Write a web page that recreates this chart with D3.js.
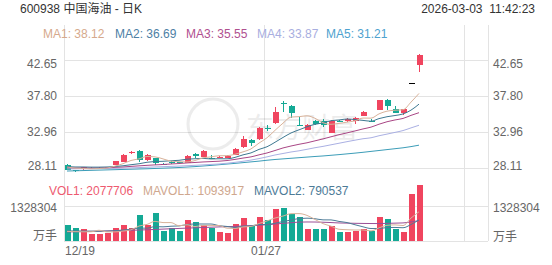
<!DOCTYPE html>
<html>
<head>
<meta charset="utf-8">
<script src="https://cdn.jsdelivr.net/npm/d3@7"></script>
<style>
  body { margin: 0; background: #fff; }
  text { font-family: "Liberation Sans", Arial, "Noto Sans CJK SC", sans-serif; }
</style>
</head>
<body>
<div id="chart"></div>
<script>
var svgWidth = 552;
var svgHeight = 265;

// daily candles, 12/19 .. 03/03
var dates = ["12/19", "12/22", "12/23", "12/24", "12/25", "12/26", "12/29", "12/30", "12/31", "01/05",
  "01/06", "01/07", "01/08", "01/09", "01/12", "01/13", "01/14", "01/15", "01/16", "01/19",
  "01/20", "01/21", "01/22", "01/23", "01/26", "01/27", "01/28", "01/29", "01/30", "02/02",
  "02/03", "02/04", "02/05", "02/06", "02/09", "02/10", "02/11", "02/12", "02/13", "02/24",
  "02/25", "02/26", "02/27", "03/02", "03/03"];
var opens = [28.56, 27.88, 27.98, 28.12, 28.14, 28.2, 28.55, 29.0, 30.1, 30.45, 29.2, 29.5, 28.7, 28.9, 28.95,
  28.88, 30.0, 29.68, 29.55, 29.5, 29.55, 29.9, 31.0, 31.9, 32.0, 33.45, 34.13, 36.9, 36.45, 33.9,
  33.3, 34.5, 34.5, 32.88, 34.5, 34.45, 34.44, 35.15, 34.5, 35.9, 37.3, 36.1, 35.45, 39.55, 41.85];
var highs = [28.65, 27.95, 28.32, 28.26, 28.3, 28.36, 29.1, 30.05, 30.45, 30.55, 30.05, 29.55, 28.8, 29.05, 29.0,
  29.85, 30.1, 30.6, 29.9, 29.7, 29.85, 30.8, 32.4, 32.1, 33.6, 33.9, 36.3, 37.05, 36.55, 35.0,
  34.0, 34.6, 34.7, 34.6, 34.6, 34.85, 35.0, 35.8, 34.7, 37.3, 37.35, 36.5, 36.05, 39.55, 43.45];
var lows = [27.85, 27.68, 27.95, 28.05, 28.1, 28.15, 28.5, 28.95, 30.0, 29.0, 29.1, 28.6, 28.5, 28.7, 28.8,
  28.8, 29.55, 29.6, 29.3, 29.45, 29.5, 29.85, 30.9, 31.1, 31.95, 33.05, 34.0, 35.6, 34.9, 33.75,
  33.2, 33.85, 33.6, 32.85, 34.3, 34.3, 33.98, 35.05, 34.3, 35.85, 35.9, 35.45, 35.3, 39.55, 41.0];
var closes = [27.95, 27.78, 28.28, 28.2, 28.22, 28.3, 29.05, 29.95, 30.35, 29.25, 29.9, 28.78, 28.6, 28.85, 28.85,
  29.78, 29.72, 30.42, 29.5, 29.6, 29.8, 30.7, 32.0, 31.45, 33.5, 33.35, 35.65, 36.8, 35.5, 33.8,
  33.9, 34.0, 33.85, 34.45, 34.42, 34.68, 34.9, 35.7, 34.42, 37.24, 36.48, 35.55, 35.99, 39.55, 43.3];
var volumes = [598000, 475000, 437000, 250000, 250000, 288000, 475000, 598000, 475000, 961000,
  598000, 1047000, 362000, 475000, 362000, 798000, 698000, 586000, 475000, 337000,
  300000, 648000, 873000, 561000, 898000, 773000, 1197000, 1234000, 1010000, 910000,
  437000, 437000, 449000, 549000, 325000, 349000, 380000, 461000, 374000, 885000,
  835000, 461000, 337000, 1760000, 2077706];

// moving average lines
var ma1 = [28.3, 28.15, 28.1, 28.05, 28.09, 28.16, 28.41, 28.74, 29.17, 29.38, 29.7, 29.65, 29.38, 29.08, 29.0,
  28.97, 29.16, 29.52, 29.65, 29.8, 29.81, 30.0, 30.32, 30.71, 31.49, 32.2, 33.19, 34.15, 34.96, 35.02,
  35.13, 34.8, 34.21, 34.0, 34.12, 34.28, 34.46, 34.83, 34.82, 35.39, 35.75, 35.88, 35.94, 36.96, 38.12];
var ma2 = [28.35, 28.3, 28.3, 28.28, 28.28, 28.3, 28.36, 28.46, 28.6, 28.73, 28.93, 29.03, 29.06, 29.13, 29.19,
  29.34, 29.4, 29.45, 29.37, 29.4, 29.39, 29.58, 29.92, 30.18, 30.65, 31.0, 31.6, 32.24, 32.84, 33.26,
  33.67, 34.0, 34.18, 34.48, 34.57, 34.71, 34.63, 34.52, 34.41, 34.76, 35.01, 35.17, 35.38, 35.89, 36.69];
var ma3 = [28.2, 28.18, 28.17, 28.17, 28.18, 28.2, 28.25, 28.3, 28.38, 28.45, 28.52, 28.58, 28.63, 28.7, 28.76,
  28.84, 28.9, 28.97, 29.02, 29.07, 29.16, 29.31, 29.49, 29.65, 29.92, 30.17, 30.5, 30.84, 31.1, 31.33,
  31.53, 31.79, 32.05, 32.33, 32.61, 32.85, 33.11, 33.38, 33.62, 34.01, 34.34, 34.58, 34.78, 35.19, 35.55];
var ma4 = [28.05, 28.05, 28.06, 28.07, 28.08, 28.1, 28.12, 28.15, 28.18, 28.22, 28.26, 28.3, 28.34, 28.38, 28.42,
  28.47, 28.52, 28.58, 28.64, 28.7, 28.8, 28.92, 29.06, 29.22, 29.42, 29.65, 29.9, 30.1, 30.3, 30.46,
  30.66, 30.87, 31.05, 31.26, 31.47, 31.68, 31.88, 32.07, 32.2, 32.47, 32.69, 32.92, 33.16, 33.52, 33.87];
var ma5 = [27.76, 27.79, 27.82, 27.85, 27.88, 27.91, 27.94, 27.97, 28.0, 28.03, 28.06, 28.1, 28.14, 28.18, 28.23,
  28.29, 28.35, 28.43, 28.51, 28.6, 28.69, 28.78, 28.88, 28.98, 29.08, 29.2, 29.3, 29.38, 29.46, 29.54,
  29.62, 29.7, 29.77, 29.86, 29.95, 30.05, 30.15, 30.26, 30.38, 30.5, 30.62, 30.74, 30.86, 31.02, 31.21];
var mavol1 = [360000, 350000, 345000, 345000, 402000, 340000, 340000, 372000, 417000, 559000,
  621000, 736000, 689000, 689000, 569000, 609000, 539000, 584000, 584000, 579000,
  479000, 469000, 527000, 544000, 656000, 751000, 860000, 933000, 1022000, 1025000,
  958000, 806000, 649000, 556000, 439000, 422000, 410000, 413000, 378000, 490000,
  587000, 603000, 578000, 856000, 1093917];
var mavol2 = [380000, 375000, 372000, 368000, 365000, 370000, 385000, 410000, 440000, 481000,
  481000, 538000, 530000, 553000, 564000, 615000, 637000, 636000, 636000, 574000,
  544000, 504000, 555000, 564000, 617000, 615000, 665000, 730000, 783000, 840000,
  854000, 833000, 791000, 789000, 732000, 690000, 608000, 531000, 467000, 465000,
  504000, 507000, 496000, 617000, 790537];
var mavol3 = [340000, 345000, 352000, 360000, 368000, 376000, 384000, 392000, 400000, 410000,
  420000, 432000, 445000, 458000, 470000, 482000, 494000, 505000, 516000, 527000,
  535000, 548000, 560000, 575000, 591000, 612000, 635000, 660000, 685000, 707000,
  712000, 710000, 702000, 690000, 675000, 668000, 662000, 657000, 654000, 653000,
  660000, 668000, 676000, 715000, 762000];

var priceTicks = [28.11, 32.96, 37.80, 42.65];
var volTicks = [1328304];
var labelEvery = 25;
var slotCount = 53;

var upColor = "#f0455f";
var downColor = "#14a995";
var gridColor = "#e3e3e3";

var svg = d3.select("#chart")
  .append("svg")
  .attr("width", svgWidth)
  .attr("height", svgHeight);

// scales: one 8px slot per trading day
var xScale = d3.scaleLinear().domain([0, slotCount]).range([64, 488]);
var yPrice = d3.scaleLinear().domain([28.11, 42.65]).range([168.4, 59.5]);
var yVol = d3.scaleLinear().domain([0, 1328304]).range([241, 205.5]);
var barW = 6;
var cx = i => xScale(i) + barW / 2;

// grid
var grid = svg.append("g").attr("stroke", gridColor).attr("shape-rendering", "crispEdges");
priceTicks.forEach(function(t) {
  grid.append("line").attr("x1", 64).attr("x2", 488)
    .attr("y1", Math.round(yPrice(t)) + 0.5).attr("y2", Math.round(yPrice(t)) + 0.5);
});
volTicks.concat([0]).forEach(function(t) {
  grid.append("line").attr("x1", 64).attr("x2", 488)
    .attr("y1", Math.round(yVol(t)) + 0.5).attr("y2", Math.round(yVol(t)) + 0.5);
});
d3.range(0, slotCount + 1, labelEvery).concat([slotCount]).forEach(function(i) {
  grid.append("line").attr("x1", xScale(i) + 0.5).attr("x2", xScale(i) + 0.5)
    .attr("y1", 25).attr("y2", 241);
});

// faint watermark
var wm = svg.append("g").attr("opacity", 0.07);
wm.append("circle").attr("cx", 213).attr("cy", 124).attr("r", 25)
  .attr("fill", "none").attr("stroke", "#000").attr("stroke-width", 3);
wm.append("text").attr("x", 246).attr("y", 138).attr("font-size", 28)
  .attr("font-family", "Noto Sans CJK SC").attr("fill", "#000").text("东方财富");

// candles
var idx = d3.range(dates.length);
var candleColor = i => closes[i] > opens[i] ? upColor : (closes[i] < opens[i] ? downColor : "#000");
var volColor = function(i) {
  if (closes[i] > opens[i]) return upColor;
  if (closes[i] < opens[i]) return downColor;
  return (i > 0 && closes[i] < closes[i - 1]) ? downColor : upColor;
};

var candles = svg.append("g").attr("shape-rendering", "crispEdges");
candles.selectAll("line")
  .data(idx)
  .enter()
  .append("line")
  .attr("x1", i => Math.round(cx(i)) + 0.5)
  .attr("x2", i => Math.round(cx(i)) + 0.5)
  .attr("y1", i => yPrice(highs[i]))
  .attr("y2", i => yPrice(lows[i]))
  .attr("stroke", candleColor);
candles.selectAll("rect")
  .data(idx)
  .enter()
  .append("rect")
  .attr("x", i => xScale(i) + 0.5)
  .attr("y", i => yPrice(Math.max(opens[i], closes[i])))
  .attr("width", barW)
  .attr("height", i => Math.max(1, Math.abs(yPrice(opens[i]) - yPrice(closes[i]))))
  .attr("fill", candleColor);

// volume bars
svg.append("g").attr("shape-rendering", "crispEdges")
  .selectAll("rect")
  .data(idx)
  .enter()
  .append("rect")
  .attr("x", i => xScale(i) + 0.5)
  .attr("y", i => yVol(volumes[i]))
  .attr("width", barW)
  .attr("height", i => yVol(0) - yVol(volumes[i]))
  .attr("fill", volColor);

// MA lines
var priceLine = d3.line().x((d, i) => cx(i)).y(d => yPrice(d)).curve(d3.curveMonotoneX);
var volLine = d3.line().x((d, i) => cx(i)).y(d => yVol(d)).curve(d3.curveMonotoneX);
var maSeries = [
  { name: "MA1", values: ma1, color: "#d6a98c", line: "#d8b29a" },
  { name: "MA2", values: ma2, color: "#4d80a5", line: "#3e7891" },
  { name: "MA3", values: ma3, color: "#b0508f", line: "#a94685" },
  { name: "MA4", values: ma4, color: "#a8aee0", line: "#aab0e3" },
  { name: "MA5", values: ma5, color: "#4ea2cf", line: "#3c9db8" }
];
maSeries.slice().reverse().forEach(function(s) {
  svg.append("path").attr("d", priceLine(s.values))
    .attr("fill", "none").attr("stroke", s.line).attr("stroke-width", 1);
});
[[mavol3, "#9b4f96"], [mavol2, "#4d7b97"], [mavol1, "#d8b29a"]].forEach(function(p) {
  svg.append("path").attr("d", volLine(p[0]))
    .attr("fill", "none").attr("stroke", p[1]).attr("stroke-width", 1);
});

// header
svg.append("text").attr("x", 20).attr("y", 12.5).attr("font-size", 12).attr("fill", "#333")
  .text("600938 中国海油 - 日K");
svg.append("text").attr("x", 535).attr("y", 12.5).attr("font-size", 12).attr("fill", "#333")
  .attr("text-anchor", "end").attr("xml:space", "preserve")
  .text("2026-03-03  11:42:23");

// MA legend
var maX = [43, 115, 186, 257, 326];
maSeries.forEach(function(s, k) {
  svg.append("text").attr("x", maX[k]).attr("y", 38).attr("font-size", 12).attr("fill", s.color)
    .text(s.name + ": " + s.values[s.values.length - 1].toFixed(2));
});

// volume legend
var volLegend = [
  { text: "VOL1: " + volumes[volumes.length - 1], x: 49, color: "#ee5a6f" },
  { text: "MAVOL1: " + mavol1[mavol1.length - 1], x: 143, color: "#cfa78e" },
  { text: "MAVOL2: " + mavol2[mavol2.length - 1], x: 254, color: "#4d7b97" }
];
volLegend.forEach(function(l) {
  svg.append("text").attr("x", l.x).attr("y", 195.3).attr("font-size", 12).attr("fill", l.color).text(l.text);
});

// axis labels, both sides
var shift = [-2.7, 0, 0, 4.4];
priceTicks.forEach(function(t, k) {
  var y = yPrice(t) + 4.3 + shift[k];
  svg.append("text").attr("x", 57).attr("y", y).attr("font-size", 12).attr("fill", "#666")
    .attr("text-anchor", "end").text(t.toFixed(2));
  svg.append("text").attr("x", 493).attr("y", y).attr("font-size", 12).attr("fill", "#666")
    .text(t.toFixed(2));
});
volTicks.forEach(function(t) {
  svg.append("text").attr("x", 57).attr("y", yVol(t) + 6).attr("font-size", 12).attr("fill", "#666")
    .attr("text-anchor", "end").text(t);
  svg.append("text").attr("x", 493).attr("y", yVol(t) + 6.5).attr("font-size", 12).attr("fill", "#666")
    .text(t);
});
svg.append("text").attr("x", 57).attr("y", 240).attr("font-size", 12).attr("fill", "#666")
  .attr("text-anchor", "end").text("万手");
svg.append("text").attr("x", 493).attr("y", 240.5).attr("font-size", 12).attr("fill", "#666")
  .text("万手");

// date labels
idx.filter(i => i % labelEvery === 0).forEach(function(i) {
  svg.append("text")
    .attr("x", i === 0 ? xScale(i) + 1 : cx(i) - 1)
    .attr("y", 255.3)
    .attr("font-size", 12)
    .attr("fill", "#666")
    .attr("text-anchor", i === 0 ? "start" : "middle")
    .text(dates[i]);
});
</script>
</body>
</html>
